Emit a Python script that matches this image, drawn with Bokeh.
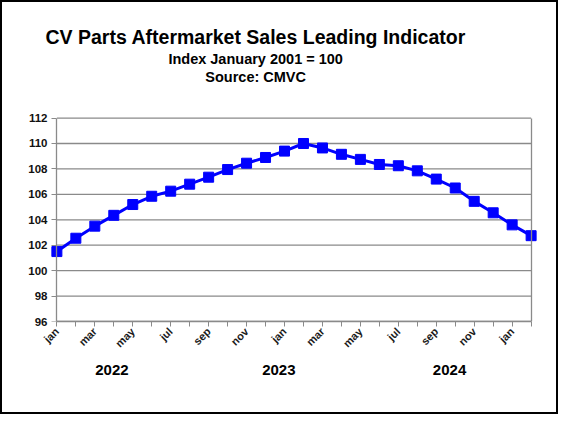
from math import pi
from bokeh.plotting import figure
from bokeh.models import FixedTicker, Range1d, Title, LinearAxis
from bokeh.embed import file_html
from bokeh.resources import INLINE

# ---- data ----
months = ["jan", "feb", "mar", "apr", "may", "jun", "jul", "aug", "sep", "oct", "nov", "dec",
          "jan", "feb", "mar", "apr", "may", "jun", "jul", "aug", "sep", "oct", "nov", "dec",
          "jan", "feb"]
index_values = [101.5, 102.55, 103.5, 104.35, 105.2, 105.85, 106.25, 106.8, 107.35, 107.95, 108.45, 108.9,
                109.4, 110.0, 109.65, 109.15, 108.75, 108.35, 108.25, 107.85, 107.2, 106.5, 105.45, 104.55,
                103.6, 102.75]
years = ["2022", "2023", "2024"]
y_ticks = [96, 98, 100, 102, 104, 106, 108, 110, 112]
title_lines = ["CV Parts Aftermarket Sales Leading Indicator", "Index January 2001 = 100", "Source: CMVC"]

x = list(range(len(months)))
year_x = [2.9, 11.7, 20.7]
x_bounds = (x[0], x[-1])
y_bounds = (y_ticks[0], y_ticks[-1])

# the frame is a little larger than the plotted box so the end markers are not cut;
# axes, border and grid lines are bounded to the jan-2022..feb-2024 / 96..112 box
p = figure(width=558, height=414, output_backend="svg", toolbar_location=None, tools="",
           x_range=Range1d(-0.6, len(months) - 0.4), y_range=Range1d(96, 114.64),
           min_border_left=43, min_border_right=18, min_border_top=82, min_border_bottom=95,
           background_fill_color="white", border_fill_color="white")
p.styles = {"border": "2px solid black"}

grey = "#8a8a8a"
p.outline_line_color = None
p.xgrid.visible = False
p.ygrid.visible = False

# horizontal grid lines across the plotted box
p.segment(x0=[x_bounds[0]] * len(y_ticks), y0=y_ticks, x1=[x_bounds[1]] * len(y_ticks), y1=y_ticks,
          line_color=grey, line_width=1.3)

# y tick labels (default axis at the frame edge; only its labels are shown)
y_labels = p.yaxis[0]
y_labels.ticker = FixedTicker(ticks=y_ticks)
y_labels.axis_line_color = None
y_labels.major_tick_line_color = None
y_labels.minor_tick_line_color = None
y_labels.major_tick_in = 0
y_labels.major_tick_out = 0
y_labels.major_label_standoff = -2
y_labels.major_label_text_font = "Liberation Sans"
y_labels.major_label_text_font_style = "bold"
y_labels.major_label_text_font_size = "11.5px"
y_labels.major_label_text_color = "#111111"

# y axis line and tick marks at jan 2022
y_line = LinearAxis(ticker=FixedTicker(ticks=y_ticks), bounds=y_bounds, fixed_location=x_bounds[0],
                    major_label_overrides={t: "" for t in y_ticks})
y_line.axis_line_color = grey
y_line.axis_line_width = 1.3
y_line.major_tick_line_color = grey
y_line.major_tick_in = 0
y_line.major_tick_out = 5
y_line.minor_tick_line_color = None
y_line.major_label_standoff = 0
y_line.major_label_text_font_size = "1px"
p.add_layout(y_line, "left")

# right-hand border of the plotted box
right_axis = LinearAxis(ticker=FixedTicker(ticks=[]), bounds=y_bounds, fixed_location=x_bounds[1])
right_axis.axis_line_color = grey
right_axis.axis_line_width = 1.3
right_axis.major_tick_line_color = None
right_axis.minor_tick_line_color = None
p.add_layout(right_axis, "right")

p.xaxis.ticker = FixedTicker(ticks=x)
p.xaxis.bounds = x_bounds
p.xaxis.major_label_overrides = {i: (months[i] if i % 2 == 0 else "") for i in x}
p.xaxis.major_label_orientation = pi / 4
p.xaxis.axis_line_color = grey
p.xaxis.axis_line_width = 1.3
p.xaxis.major_tick_line_color = grey
p.xaxis.major_tick_in = 0
p.xaxis.major_tick_out = 5
p.xaxis.minor_tick_line_color = None
p.xaxis.major_label_text_font = "Liberation Sans"
p.xaxis.major_label_text_font_style = "bold"
p.xaxis.major_label_text_font_size = "11px"
p.xaxis.major_label_text_color = "#1a1a1a"
p.xaxis.major_label_standoff = 3

# year labels as a second category row below the month labels
year_axis = LinearAxis(ticker=FixedTicker(ticks=year_x),
                       major_label_overrides={xx: yr for xx, yr in zip(year_x, years)})
year_axis.axis_line_color = None
year_axis.major_tick_line_color = None
year_axis.minor_tick_line_color = None
year_axis.major_tick_out = 0
year_axis.major_tick_in = 0
year_axis.major_label_standoff = 8
year_axis.major_label_text_font = "Liberation Sans"
year_axis.major_label_text_font_style = "bold"
year_axis.major_label_text_font_size = "15px"
year_axis.major_label_text_color = "black"
p.add_layout(year_axis, "below")

p.line(x, index_values, line_color="#0000ff", line_width=3)
p.scatter(x, index_values, marker="square", size=10, fill_color="#0000ff", line_color="#0000ff")

# titles: main title outermost, then subtitle, source line closest to the plot
p.title = Title(text=title_lines[0], align="left", offset=0, standoff=2,
                text_font="Liberation Sans", text_font_size="19.5px", text_font_style="bold",
                text_color="black")
p.add_layout(Title(text=title_lines[2], align="left", offset=159.8, standoff=0,
                   text_font="Liberation Sans", text_font_size="14.5px", text_font_style="bold",
                   text_color="black"), "above")
p.add_layout(Title(text=title_lines[1], align="left", offset=122.9, standoff=0,
                   text_font="Liberation Sans", text_font_size="14.5px", text_font_style="bold",
                   text_color="black"), "above")

open("out.html", "w").write(file_html(p, INLINE))
